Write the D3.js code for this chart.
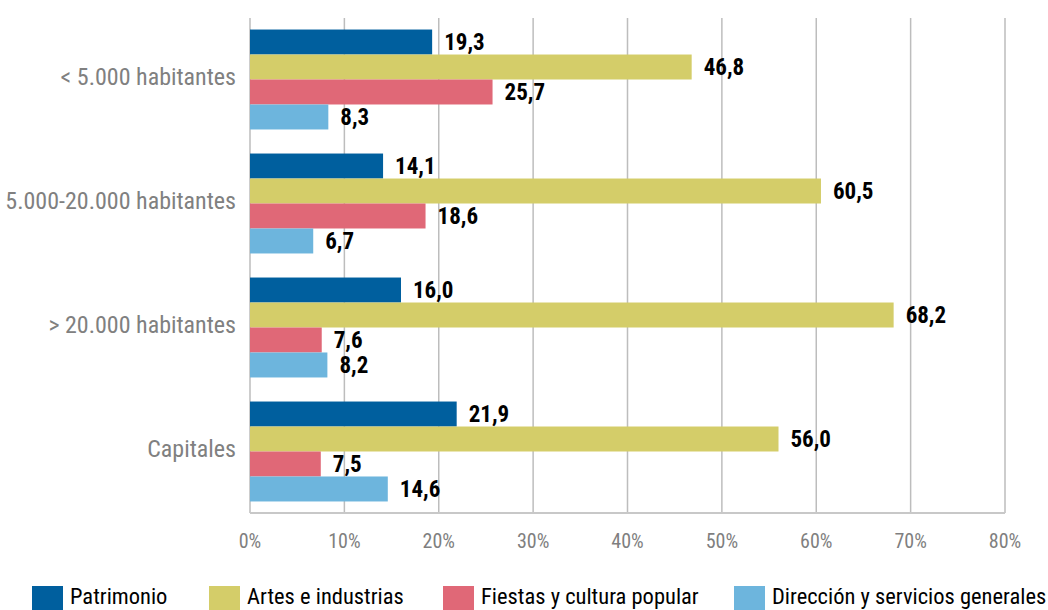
<!DOCTYPE html>
<html lang="es">
<head>
<meta charset="UTF-8">
<title>barras</title>
<script src="https://cdn.jsdelivr.net/npm/d3@7"></script>
<style>
  body { margin: 0; background: #fff; }
  svg text { font-family: "Liberation Sans Narrow", "Arial Narrow", "Roboto Condensed", "DejaVu Sans Condensed", sans-serif; }
</style>
</head>
<body>
<svg id="chart"></svg>
<script>
// datos
const categories = ["< 5.000 habitantes", "5.000-20.000 habitantes", "> 20.000 habitantes", "Capitales"];
const seriesNames = ["Patrimonio", "Artes e industrias", "Fiestas y cultura popular", "Dirección y servicios generales"];
const patrimonio = [19.3, 14.1, 16.0, 21.9];
const artes = [46.8, 60.5, 68.2, 56.0];
const fiestas = [25.7, 18.6, 7.6, 7.5];
const direccion = [8.3, 6.7, 8.2, 14.6];
const xTicks = [0, 10, 20, 30, 40, 50, 60, 70, 80];
const colors = ["#005f9e", "#d4cd69", "#e06877", "#6db5dd"];

const values = [patrimonio, artes, fiestas, direccion];

const width = 1048, height = 610;
const margin = { top: 18, right: 43, bottom: 97, left: 250 };
const svg = d3.select("#chart").attr("width", width).attr("height", height);

const x = d3.scaleLinear().domain([0, 80]).range([margin.left, width - margin.right]);
const y0 = d3.scaleBand().domain(categories)
  .range([margin.top, height - margin.bottom])
  .paddingInner(0.194).paddingOuter(0.093);
const y1 = d3.scaleBand().domain(seriesNames).range([0, y0.bandwidth()]);

// rejilla
svg.append("g").selectAll("line")
  .data(xTicks)
  .enter().append("line")
  .attr("x1", d => x(d)).attr("x2", d => x(d))
  .attr("y1", margin.top).attr("y2", height - margin.bottom)
  .attr("stroke", "#bdbdbd").attr("stroke-width", 1.5);

svg.append("line")
  .attr("x1", x(0)).attr("x2", x(80))
  .attr("y1", height - margin.bottom).attr("y2", height - margin.bottom)
  .attr("stroke", "#c8c8c8").attr("stroke-width", 2);

// eje x
svg.append("g").selectAll("text")
  .data(xTicks)
  .enter().append("text")
  .attr("x", d => x(d))
  .attr("y", 548)
  .attr("text-anchor", "middle")
  .attr("font-size", 20)
  .attr("fill", "#7f7f7f")
  .text(d => d + "%");

// etiquetas de categoria
svg.append("g").selectAll("text")
  .data(categories)
  .enter().append("text")
  .attr("x", 236)
  .attr("y", d => y0(d) + y0.bandwidth() / 2 - 3)
  .attr("dy", "0.35em")
  .attr("text-anchor", "end")
  .attr("font-size", 24)
  .attr("fill", "#808080")
  .text(d => d);

// barras
const fmt = v => v.toFixed(1).replace(".", ",");
const rows = [];
categories.forEach((c, i) => {
  seriesNames.forEach((s, j) => {
    rows.push({ cat: c, ser: s, idx: j, v: values[j][i] });
  });
});

const groups = svg.append("g");
groups.selectAll("rect")
  .data(rows)
  .enter().append("rect")
  .attr("x", x(0))
  .attr("y", d => y0(d.cat) + y1(d.ser))
  .attr("width", d => x(d.v) - x(0))
  .attr("height", y1.bandwidth())
  .attr("fill", d => colors[d.idx]);

groups.selectAll("text")
  .data(rows)
  .enter().append("text")
  .attr("x", d => x(d.v) + 12)
  .attr("y", d => y0(d.cat) + y1(d.ser) + y1.bandwidth() / 2)
  .attr("dy", "0.35em")
  .attr("font-size", 23)
  .attr("font-weight", "bold")
  .attr("fill", "#000")
  .text(d => fmt(d.v));

// leyenda
const legendX = [32, 209, 443, 734];
const legend = svg.append("g").selectAll("g")
  .data(seriesNames)
  .enter().append("g")
  .attr("transform", (d, i) => "translate(" + legendX[i] + ",586)");
legend.append("rect")
  .attr("width", 31).attr("height", 26)
  .attr("fill", (d, i) => colors[i]);
legend.append("text")
  .attr("x", 38).attr("y", 18)
  .attr("font-size", 22.5)
  .attr("fill", "#000")
  .text(d => d);
</script>
</body>
</html>
